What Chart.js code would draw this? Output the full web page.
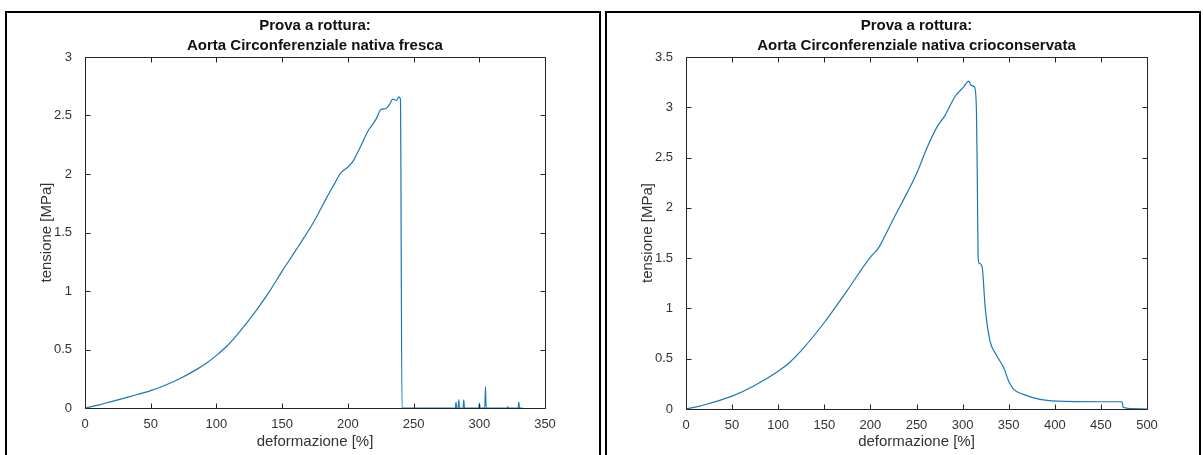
<!DOCTYPE html>
<html>
<head>
<meta charset="utf-8">
<script src="https://cdn.jsdelivr.net/npm/chart.js@4"></script>
<style>
  body { margin: 0; background: #fff; width: 1203px; height: 455px; overflow: hidden; position: relative; }
  canvas { position: absolute; top: 0; }
  .frame { position: absolute; top: 11px; height: 460px; border: 2px solid #000; box-sizing: border-box; pointer-events: none; }
</style>
</head>
<body>
<canvas id="fresh" width="603" height="455" style="left:0"></canvas>
<canvas id="cryo" width="600" height="455" style="left:603px"></canvas>
<div class="frame" style="left:5px;width:596px"></div>
<div class="frame" style="left:605px;width:596px"></div>
<script>
// aorta circonferenziale nativa fresca
const strainFresh = [0, 10, 20, 30, 40, 50, 60, 72, 85, 92, 100, 108, 116, 124, 132, 140, 150, 157, 164, 174, 184,
  190, 194, 200, 204, 209, 216, 218, 222, 225, 229, 232, 234, 237, 239, 240, 241.2,
  250, 260, 270, 281.8, 282.3, 282.8, 283.9, 284.4, 284.9, 287.7, 288.2, 288.7, 299.6, 300.1, 300.6,
  304.2, 304.7, 305.2, 321.2, 321.7, 322.2, 329.6, 330.1, 330.6, 333];
const stressFresh = [0, 0.025, 0.055, 0.085, 0.115, 0.148, 0.19, 0.25, 0.33, 0.38, 0.45, 0.53, 0.63, 0.74, 0.86, 0.99, 1.17, 1.29, 1.41, 1.59, 1.8,
  1.92, 2.0, 2.06, 2.11, 2.22, 2.38, 2.41, 2.48, 2.55, 2.56, 2.6, 2.64, 2.63, 2.66, 2.64, 0,
  0, 0, 0, 0, 0.05, 0, 0, 0.07, 0, 0, 0.07, 0, 0, 0.04, 0,
  0, 0.18, 0, 0, 0.01, 0, 0, 0.05, 0, 0];

// aorta circonferenziale nativa crioconservata
const strainCryo = [0, 10, 25, 50, 73, 100, 112, 125, 150, 175, 200, 207, 210, 225, 233, 250, 262, 272, 281, 292, 301,
  306.6, 309, 313, 315, 316, 316.8, 318, 321, 324.7, 329.4, 337.4, 344.6, 350, 355.4, 366, 384, 402, 450, 473, 474,
  482, 500];
const stressCryo = [0, 0.018, 0.055, 0.128, 0.227, 0.376, 0.46, 0.58, 0.86, 1.18, 1.51, 1.58, 1.62, 1.89, 2.03, 2.34, 2.61, 2.8, 2.92, 3.11, 3.2,
  3.26, 3.22, 3.2, 2.97, 2.25, 1.52, 1.45, 1.42, 0.99, 0.69, 0.525, 0.41, 0.277, 0.195, 0.145, 0.095, 0.078, 0.072, 0.072, 0.02,
  0.005, 0];

const xTicksFresh = [0, 50, 100, 150, 200, 250, 300, 350];
const yTicksFresh = [0, 0.5, 1, 1.5, 2, 2.5, 3];
const xTicksCryo = [0, 50, 100, 150, 200, 250, 300, 350, 400, 450, 500];
const yTicksCryo = [0, 0.5, 1, 1.5, 2, 2.5, 3, 3.5];

const titleFresh = ['Prova a rottura:', 'Aorta Circonferenziale nativa fresca'];
const titleCryo = ['Prova a rottura:', 'Aorta Circonferenziale nativa crioconservata'];

const FONT = "'Liberation Sans', Arial, Helvetica, sans-serif";
const AX = '#262626';

// matlab style box with inward ticks on all four sides
const axesBox = {
  id: 'axesBox',
  afterDatasetsDraw(chart) {
    const { ctx, chartArea: a, scales: { x, y } } = chart;
    const len = 5;
    const L = Math.round(a.left) + 0.5, R = Math.round(a.right) + 0.5;
    const T = Math.round(a.top) + 0.5, B = Math.round(a.bottom) + 0.5;
    ctx.save();
    ctx.strokeStyle = AX;
    ctx.lineWidth = 1;
    ctx.beginPath();
    ctx.rect(L, T, R - L, B - T);
    x.ticks.forEach(t => {
      const p = Math.round(x.getPixelForValue(t.value)) + 0.5;
      ctx.moveTo(p, B); ctx.lineTo(p, B - len);
      ctx.moveTo(p, T); ctx.lineTo(p, T + len);
    });
    y.ticks.forEach(t => {
      const p = Math.round(y.getPixelForValue(t.value)) + 0.5;
      ctx.moveTo(L, p); ctx.lineTo(L + len, p);
      ctx.moveTo(R, p); ctx.lineTo(R - len, p);
    });
    ctx.stroke();
    ctx.restore();
  }
};

function makeChart(id, strain, stress, xTicks, yTicks, title, pad) {
  const points = strain.map((s, i) => ({ x: s, y: stress[i] }));
  return new Chart(document.getElementById(id), {
    type: 'line',
    data: {
      datasets: [{
        data: points,
        borderColor: '#1a78b8',
        borderWidth: 1.2,
        pointRadius: 0,
        cubicInterpolationMode: 'monotone',
        fill: false
      }]
    },
    options: {
      responsive: false,
      animation: false,
      devicePixelRatio: 1,
      layout: { padding: { left: pad.left, right: pad.right, top: 0, bottom: 0 } },
      plugins: {
        legend: { display: false },
        tooltip: { enabled: false },
        title: {
          display: true,
          text: title,
          fullSize: false,
          color: '#111',
          font: { family: FONT, size: 15, weight: 'bold', lineHeight: 20 / 15 },
          padding: { top: 16, bottom: 1 }
        }
      },
      scales: {
        x: {
          type: 'linear',
          min: xTicks[0],
          max: xTicks[xTicks.length - 1],
          grid: { display: false },
          border: { display: false },
          afterBuildTicks: s => { s.ticks = xTicks.map(v => ({ value: v })); },
          afterFit: s => { s.height = pad.bottom; },
          ticks: {
            color: '#333', padding: 1, maxRotation: 0, autoSkip: false,
            font: { family: FONT, size: 13 },
            callback: v => String(v)
          },
          title: {
            display: true, text: 'deformazione [%]', color: '#333',
            font: { family: FONT, size: 15, lineHeight: 1.2 },
            padding: { top: 0, bottom: 4 }
          }
        },
        y: {
          type: 'linear',
          min: yTicks[0],
          max: yTicks[yTicks.length - 1],
          grid: { display: false },
          border: { display: false },
          afterBuildTicks: s => { s.ticks = yTicks.map(v => ({ value: v })); },
          afterFit: s => { s.width = 47; },
          ticks: {
            color: '#333', padding: 5, autoSkip: false,
            font: { family: FONT, size: 13 },
            callback: v => String(v)
          },
          title: {
            display: true, text: 'tensione [MPa]', color: '#333',
            font: { family: FONT, size: 15, lineHeight: 1.2 },
            padding: { top: 0, bottom: 0 }
          }
        }
      }
    },
    plugins: [axesBox]
  });
}

makeChart('fresh', strainFresh, stressFresh, xTicksFresh, yTicksFresh, titleFresh, { left: 38, right: 58, bottom: 47 });
makeChart('cryo', strainCryo, stressCryo, xTicksCryo, yTicksCryo, titleCryo, { left: 36, right: 56, bottom: 46 });
</script>
</body>
</html>
